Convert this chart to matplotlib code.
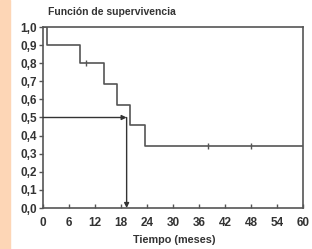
import matplotlib
matplotlib.use("Agg")
import matplotlib.pyplot as plt

# Kaplan-Meier curve
times = [0, 1, 8.5, 14, 17, 20, 23.5, 60]
surv = [1.0, 0.9, 0.8, 0.686, 0.571, 0.457, 0.343, 0.343]
cens_t = [10, 38, 48]
cens_s = [0.8, 0.343, 0.343]
median_t = 19.3
x_ticks = list(range(0, 61, 6))
y_ticks = [i / 10 for i in range(11)]
y_labels = [f"{v:.1f}".replace(".", ",") for v in y_ticks]

plt.rcParams["font.family"] = ["Liberation Sans", "DejaVu Sans"]
LC = "#555555"
TC = "#333333"

fig = plt.figure(figsize=(3.12, 2.49), dpi=100)
fig.patches.append(plt.Rectangle((0, 0), 10 / 312, 1, transform=fig.transFigure,
                                 color="#fdd6b6", zorder=0))
ax = fig.add_axes([43 / 312, 41 / 249, 260 / 312, 181 / 249])

ax.step(times, surv, where="post", color=LC, lw=1.2)
ax.plot(cens_t, cens_s, "|", color=LC, ms=5, mew=1.0)

ax.annotate("", xy=(median_t, 0.5), xytext=(0, 0.5),
            arrowprops=dict(arrowstyle="-|>", color="#333333", lw=1.0,
                            mutation_scale=7, shrinkA=0, shrinkB=0))
ax.annotate("", xy=(median_t, 0.0), xytext=(median_t, 0.5),
            arrowprops=dict(arrowstyle="-|>", color="#333333", lw=1.0,
                            mutation_scale=7, shrinkA=0, shrinkB=0))

ax.set_xlim(0, 60)
ax.set_ylim(0, 1.0)
ax.set_xticks(x_ticks)
ax.set_yticks(y_ticks)
ax.set_yticklabels(y_labels)
ax.tick_params(axis="y", direction="out", length=3, width=1, color=LC,
               labelsize=8.5, labelcolor=TC, pad=1.5)
ax.tick_params(axis="x", direction="in", length=3, width=1, color=LC,
               labelsize=8.5, labelcolor=TC, pad=6.5)
for lab in ax.get_xticklabels() + ax.get_yticklabels():
    lab.set_fontweight("bold")
for sp in ax.spines.values():
    sp.set_color(LC)
    sp.set_linewidth(1.2)

fig.text(48 / 312, 1 - 12 / 249, "Función de supervivencia", fontsize=7.5,
         fontweight="bold", color=TC, va="center", ha="left")
fig.text(174 / 312, 1 - 240 / 249, "Tiempo (meses)", fontsize=7.8,
         fontweight="bold", color=TC, va="center", ha="center")

fig.savefig("out.png", dpi=100)
